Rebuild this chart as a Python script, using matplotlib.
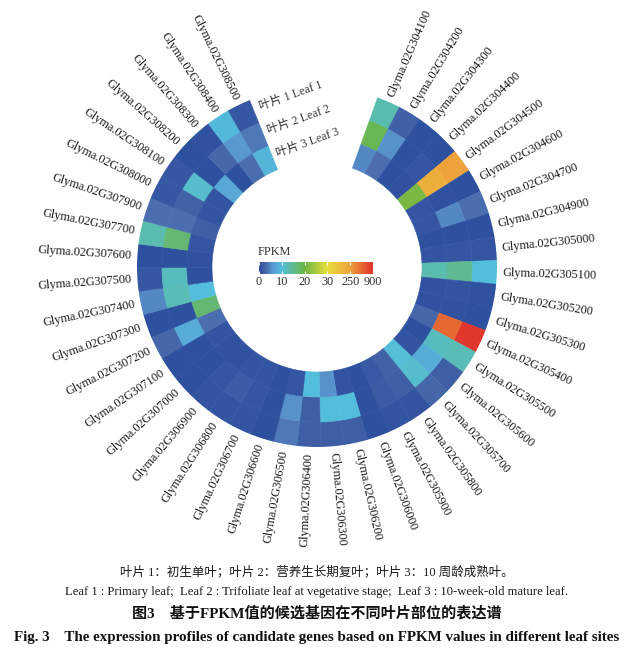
import numpy as np
import matplotlib
matplotlib.use('Agg')
import matplotlib.pyplot as plt
from matplotlib.colors import LinearSegmentedColormap, FuncNorm
import matplotlib.cm as cm

plt.rcParams['font.family'] = ['Liberation Serif', 'Noto Sans CJK SC', 'DejaVu Sans']

genes = ['Glyma.02G304100', 'Glyma.02G304200', 'Glyma.02G304300', 'Glyma.02G304400',
         'Glyma.02G304500', 'Glyma.02G304600', 'Glyma.02G304700', 'Glyma.02G304900',
         'Glyma.02G305000', 'Glyma.02G305100', 'Glyma.02G305200', 'Glyma.02G305300',
         'Glyma.02G305400', 'Glyma.02G305500', 'Glyma.02G305600', 'Glyma.02G305700',
         'Glyma.02G305800', 'Glyma.02G305900', 'Glyma.02G306000', 'Glyma.02G306200',
         'Glyma.02G306300', 'Glyma.02G306400', 'Glyma.02G306500', 'Glyma.02G306600',
         'Glyma.02G306700', 'Glyma.02G306800', 'Glyma.02G306900', 'Glyma.02G307000',
         'Glyma.02G307100', 'Glyma.02G307200', 'Glyma.02G307300', 'Glyma.02G307400',
         'Glyma.02G307500', 'Glyma.02G307600', 'Glyma.02G307700', 'Glyma.02G307900',
         'Glyma.02G308000', 'Glyma.02G308100', 'Glyma.02G308200', 'Glyma.02G308300',
         'Glyma.02G308400', 'Glyma.02G308500']

# FPKM, Leaf 1 (outer ring)
leaf1 = [13, 2.2, 0.2, 0.3, 250, 0.3, 3.5, 0.2, 1.0, 10, 0.4, 0.3, 850, 12.5,
         2, 2.8, 0.8, 0.8, 0.3, 2, 2, 2, 4, 0.2, 0.8, 0.9, 0.9, 0.2,
         0.2, 3, 0.2, 5, 1.2, 0.2, 13, 3.5, 1.3, 1.2, 0.2, 0.4, 9.5, 1.2]
# FPKM, Leaf 2 (middle ring)
leaf2 = [19, 5.5, 0.3, 1.0, 200, 0.4, 5, 0.3, 1.1, 15, 0.9, 0.4, 570, 12,
         8, 11, 2.0, 1.6, 0.3, 10, 10, 2, 5.5, 0.2, 1.1, 1.8, 1.1, 0.3,
         0.3, 8, 0.3, 12.5, 12, 0.2, 17, 3.5, 2.5, 11, 0.3, 3, 6, 4]
# FPKM, Leaf 3 (inner ring)
leaf3 = [5, 3.5, 0.3, 0.5, 21, 1.0, 1.0, 0.3, 0.9, 13, 0.4, 0.5, 3, 0.3,
         0.9, 10.5, 2.5, 1.4, 0.3, 0.7, 5.5, 10, 1.1, 0.2, 0.8, 0.9, 0.5, 0.4,
         0.9, 3.5, 17, 10, 0.2, 0.4, 1.0, 2, 0.9, 0.9, 7.5, 0.2, 3.5, 9]

track_labels = ['叶片 1 Leaf 1', '叶片 2 Leaf 2', '叶片 3 Leaf 3']
breaks = [0, 10, 20, 30, 250, 900]
# colour stops of the scale (value, colour); the scale is evenly spaced over the breaks
stop_values = [0, 3, 6, 10, 20, 30, 250, 900]
stop_colors = ['#2b4e9e', '#4868ab', '#5a9bd4', '#52bedb', '#6cb545', '#e7df3b', '#eea23b', '#e0302b']

caption_cn = '叶片 1：初生单叶；叶片 2：营养生长期复叶；叶片 3：10 周龄成熟叶。'
caption_en = 'Leaf 1 : Primary leaf;  Leaf 2 : Trifoliate leaf at vegetative stage;  Leaf 3 : 10-week-old mature leaf.'
title_cn = '图3　基于FPKM值的候选基因在不同叶片部位的表达谱'
title_en = 'Fig. 3    The expression profiles of candidate genes based on FPKM values in different leaf sites'

# colour scale
pos = np.linspace(0, 1, len(breaks))


def fwd(x):
    return np.interp(x, breaks, pos)


def inv(y):
    return np.interp(y, pos, breaks)


cmap = LinearSegmentedColormap.from_list(
    'fpkm', list(zip(fwd(np.array(stop_values, dtype=float)), stop_colors)))
norm = FuncNorm((fwd, inv), vmin=breaks[0], vmax=breaks[-1])

W, H = 630, 663
fig = plt.figure(figsize=(W / 100, H / 100), dpi=100)

cx, cy, R = 317, 267, 180
ax = fig.add_axes([(cx - R) / W, (H - cy - R) / H, 2 * R / W, 2 * R / H], projection='polar')
ax.set_theta_zero_location('N')
ax.set_theta_direction(-1)
ax.set_ylim(0, R)
ax.set_axis_off()

n = len(genes)
start_deg, end_deg = 19.7, 338.0
step = (end_deg - start_deg) / n
theta_deg = start_deg + (np.arange(n) + 0.5) * step
theta = np.deg2rad(theta_deg)
r_in, ring_w = 105, 25

rings = [leaf1, leaf2, leaf3]
for k, vals in enumerate(rings):
    bottom = r_in + (2 - k) * ring_w
    cols = cmap(norm(np.array(vals, dtype=float)))
    ax.bar(theta, ring_w, width=np.deg2rad(step), bottom=bottom, color=cols,
           edgecolor=cols, linewidth=0.4, align='center')

# gene labels
for t, td, g in zip(theta, theta_deg, genes):
    if td < 180:
        rot, ha = 90 - td, 'left'
    else:
        rot, ha = 270 - td, 'right'
    ax.text(t, 186, g, rotation=rot, rotation_mode='anchor', ha=ha, va='center',
            fontsize=8.8, color='#1a1a1a')

# track labels in the gap
for k, lab in enumerate(track_labels):
    rc = r_in + (2 - k) * ring_w + ring_w / 2 + 2
    ax.text(np.deg2rad(-19.8), rc, lab, rotation=20, rotation_mode='anchor',
            ha='left', va='center', fontsize=8.6, color='#333333')

# colour bar
cax = fig.add_axes([259 / W, (H - 274) / H, 114 / W, 12 / H])
cb = fig.colorbar(cm.ScalarMappable(norm=norm, cmap=cmap), cax=cax,
                  orientation='horizontal', ticks=breaks)
cb.outline.set_visible(False)
cax.set_xticklabels([str(b) for b in breaks])
cax.tick_params(axis='x', direction='in', length=2.5, width=0.8, color='white',
                top=True, bottom=True, labelsize=8.8, pad=1.5, labelcolor='#333333')
fig.text(258 / W, 1 - 252 / H, 'FPKM', ha='left', va='center', fontsize=8.8, color='#333333')

# captions
xc = 317 / W
fig.text(xc, 1 - 572 / H, caption_cn, ha='center', va='center', fontsize=9.0, color='#1a1a1a')
fig.text(xc, 1 - 592 / H, caption_en, ha='center', va='center', fontsize=9.1, color='#1a1a1a')
fig.text(xc, 1 - 613 / H, title_cn, ha='center', va='center', fontsize=10.9,
         fontweight='bold', color='#111111')
fig.text(xc, 1 - 638 / H, title_en, ha='center', va='center', fontsize=10.8,
         fontweight='bold', color='#111111')

fig.savefig('out.png', dpi=100, facecolor='white')
